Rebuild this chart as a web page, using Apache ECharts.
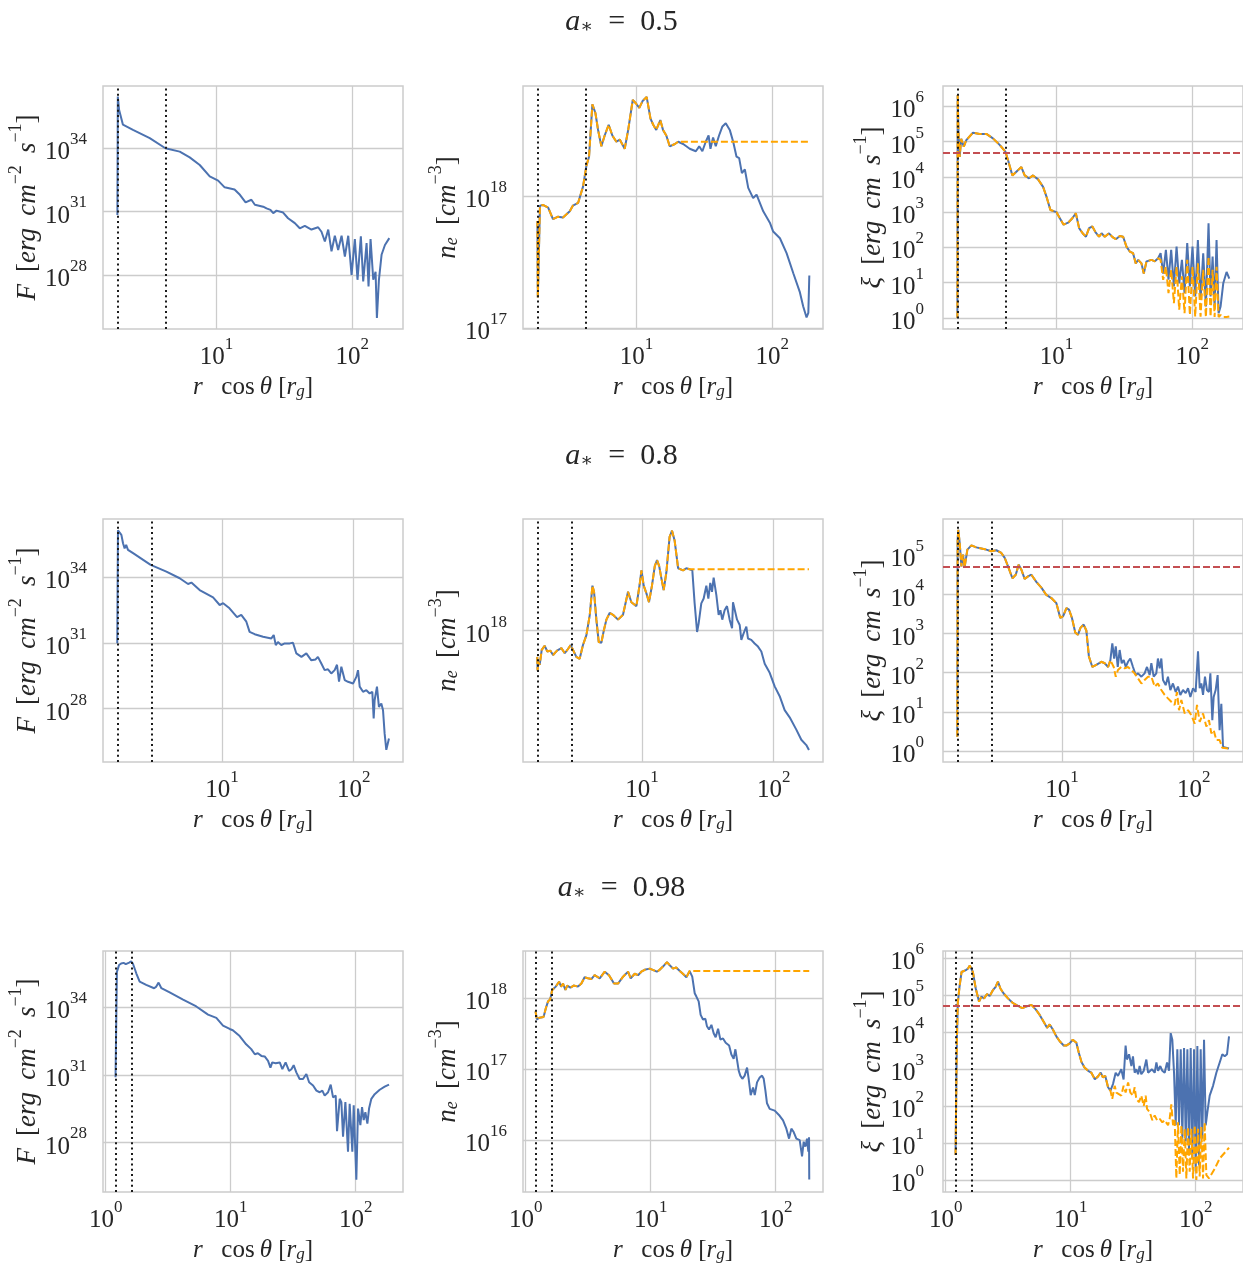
<!DOCTYPE html>
<html>
<head>
<meta charset="utf-8">
<script src="https://cdn.jsdelivr.net/npm/echarts@6.0.0/dist/echarts.min.js"></script>
<style>
  html, body { margin: 0; padding: 0; background: #fff; }
  #chart { width: 1243px; height: 1264px; }
</style>
</head>
<body>
<div id="chart"></div>
<script>
// ---- data: [r cos(theta) in r_g, value] ----
const spins = ['0.5', '0.8', '0.98'];
const horizon = [1.866, 1.6, 1.199];
const isco = [4.233, 2.907, 1.614];
const xiLimit = 5e4;

// a = 0.5
const flux05 = [[1.866, 6.9e30], [1.88, 2.8e36], [1.92, 6.6e35], [2.05, 1.3e35], [2.43, 7.4e34], [3.23, 3.0e34],
  [4.21, 1.0e34], [5.37, 6.9e33], [6.36, 3.7e33], [7.54, 1.6e33], [8.93, 4.6e32], [10.3, 2.9e32], [11.5, 1.4e32],
  [13.6, 1.1e32], [14.9, 6.2e31], [16.4, 2.7e31], [18.1, 3.6e31], [19.2, 2.1e31], [22.1, 1.7e31], [23.4, 1.4e31],
  [25.0, 1.2e31], [26.2, 8.3e30], [27.7, 1.1e31], [31.0, 8.9e30], [33.7, 4.8e30], [37.8, 2.8e30], [41.1, 1.6e30],
  [44.8, 2.1e30], [50.1, 1.4e30], [56.1, 1.8e30], [59.4, 1.1e30], [62.9, 3.8e29], [66.6, 1.4e30], [70.4, 1.3e29],
  [74.5, 7.1e29], [78.8, 1.5e29], [83.5, 7.1e29], [88.3, 7.4e28], [93.5, 7.1e29], [98.9, 1.0e28], [104.6, 4.9e29],
  [109.4, 5.8e27], [115.8, 6.6e29], [120.5, 4.8e27], [127.6, 3.2e29], [131.9, 2.8e27], [136.5, 4.9e29],
  [142.9, 5.8e27], [148.6, 1.4e28], [152.0, 8.9e25], [157.3, 5.8e27], [164.5, 8.9e28], [174.2, 2.6e29], [187.6, 5.5e29]];
const dens05 = [[1.866, 6.5e17], [1.88, 1.7e17], [1.95, 8.5e17], [2.05, 8.6e17], [2.24, 8.2e17], [2.43, 6.7e17],
  [2.65, 7.0e17], [2.88, 6.9e17], [3.23, 7.7e17], [3.41, 8.5e17], [3.72, 8.9e17], [4.05, 1.19e18], [4.28, 1.7e18],
  [4.48, 2.0e18], [4.74, 5.0e18], [4.99, 4.3e18], [5.22, 3.2e18], [5.52, 2.4e18], [5.84, 2.9e18], [6.25, 3.5e18],
  [6.65, 2.9e18], [7.12, 2.6e18], [7.54, 2.7e18], [8.2, 2.3e18], [8.7, 3.2e18], [9.4, 5.4e18], [9.9, 5.1e18],
  [10.5, 4.7e18], [11.1, 5.3e18], [11.9, 5.7e18], [12.7, 3.9e18], [13.3, 3.5e18], [14.0, 3.2e18], [15.0, 3.8e18],
  [15.7, 3.2e18], [16.6, 2.9e18], [17.6, 2.4e18], [19.2, 2.5e18], [20.3, 2.6e18], [22.1, 2.5e18], [24.7, 2.3e18],
  [27.4, 2.2e18], [29.0, 2.4e18], [30.6, 2.2e18], [32.4, 2.6e18], [34.0, 2.9e18], [35.1, 2.3e18], [36.7, 2.8e18],
  [38.4, 2.4e18], [40.6, 2.9e18], [43.0, 3.4e18], [45.5, 3.6e18], [48.7, 3.2e18], [51.6, 2.6e18], [54.6, 2.0e18],
  [57.1, 1.95e18], [59.8, 1.5e18], [62.9, 1.6e18], [66.6, 1.16e18], [72.4, 9.7e17], [76.7, 1.03e18], [85.9, 7.7e17],
  [96.1, 6.3e17], [101.7, 5.4e17], [114, 4.8e17], [127.6, 3.7e17], [143, 2.6e17], [160, 1.86e17], [169, 1.46e17],
  [179, 1.2e17], [184.5, 1.3e17], [187.6, 2.5e17]];
const xi05 = [[1.866, 0.98], [1.875, 2.1e6], [1.90, 1.9e5], [1.94, 3.7e4], [1.99, 1.2e5], [2.08, 7.2e4],
  [2.17, 1.1e5], [2.43, 1.8e5], [2.72, 1.66e5], [3.05, 1.66e5], [3.41, 1.24e5], [3.82, 8.1e4], [4.21, 5.2e4],
  [4.40, 3.0e4], [4.74, 1.1e4], [5.07, 1.4e4], [5.52, 1.9e4], [5.84, 1.1e4], [6.29, 9.1e3], [6.73, 1.1e4],
  [7.33, 8.5e3], [7.98, 5.2e3], [8.44, 2.8e3], [9.03, 1.15e3], [10.0, 1.0e3], [10.6, 670], [11.3, 440], [12.2, 500],
  [13.1, 670], [13.9, 930], [14.7, 350], [15.6, 250], [16.5, 200], [17.4, 350], [18.4, 390], [19.5, 260],
  [20.6, 200], [21.5, 250], [22.7, 200], [24.4, 250], [25.9, 195], [27.4, 170], [29.3, 210], [31.0, 200],
  [32.8, 105], [34.7, 76], [36.7, 68], [38.4, 35], [40.0, 44], [42.3, 35], [44.0, 18], [46.1, 40], [50.1, 44],
  [53.1, 40], [56.1, 49], [58.5, 68], [61.1, 18], [64.0, 85], [66.9, 12], [70.0, 85], [73.3, 7.8], [76.7, 105],
  [80.2, 9.5], [84.0, 44], [87.8, 5.0], [91.9, 132], [96.1, 7.8], [100.5, 105], [105.2, 4.0], [110.1, 162],
  [115.2, 3.2], [120.5, 68], [126.1, 2.1], [131.9, 480], [136.5, 4.0], [141.3, 55], [146.2, 2.1], [151.1, 162],
  [156.4, 1.35], [161.8, 2.1], [169.3, 9.5], [179.1, 20], [187.6, 13]];
const xi05Low = [[58.5, 44], [61.1, 12], [64.0, 28], [66.9, 5.0], [70.0, 23], [73.3, 2.6], [76.7, 28], [80.2, 1.7],
  [84.0, 15], [87.8, 1.35], [91.9, 44], [96.1, 1.2], [100.5, 28], [105.2, 1.08], [110.1, 35], [115.2, 1.08],
  [120.5, 23], [126.1, 1.05], [131.9, 55], [136.5, 1.08], [141.3, 23], [146.2, 1.05], [151.1, 28], [156.4, 1.05],
  [161.8, 1.2], [169.3, 1.05], [179.1, 1.05], [187.6, 1.08]];

// a = 0.8
const flux08 = [[1.6, 9.6e30], [1.62, 1.4e36], [1.65, 1.6e36], [1.72, 8.7e35], [1.77, 3.6e35], [1.82, 2.1e35],
  [1.87, 3.0e35], [1.93, 1.8e35], [2.11, 1.26e35], [2.87, 3.7e34], [3.78, 1.8e34], [4.77, 9.0e33], [5.52, 4.9e33],
  [5.85, 5.7e33], [6.76, 2.6e33], [8.55, 1.2e33], [9.6, 5.4e32], [10.2, 6.5e32], [11.4, 3.8e32], [13.0, 1.5e32],
  [14.0, 1.9e32], [15.3, 9.3e31], [16.2, 3.2e31], [17.7, 2.5e31], [20.5, 1.9e31], [23.7, 1.6e31], [24.7, 2.3e31],
  [25.6, 7.9e30], [26.6, 1.1e31], [28.2, 7.9e30], [29.9, 9.5e30], [32.7, 9.5e30], [34.6, 1.02e31], [36.7, 3.3e30],
  [40.1, 2.3e30], [43.7, 3.3e30], [47.7, 1.6e30], [51.4, 1.75e30], [53.5, 2.3e30], [56.8, 1.15e30], [60.2, 5.7e29],
  [63.8, 6.2e29], [67.6, 4.0e29], [71.7, 5.7e29], [74.7, 1.0e30], [77.4, 1.7e29], [80.6, 8.1e29], [85.5, 2.0e29],
  [90.6, 1.67e29], [98.9, 1.4e29], [104.8, 2.8e29], [107.9, 5.7e29], [111.1, 1.0e29], [117.8, 5.8e28],
  [124.8, 6.9e28], [132.3, 4.9e28], [138.6, 5.8e28], [141.9, 3.5e27], [144.3, 2.4e28], [150.3, 1.0e29],
  [155.6, 1.2e28], [162.2, 1.7e28], [167.1, 8.3e27], [171.9, 7.1e26], [177, 1.3e26], [185.4, 4.3e26]];
const dens08 = [[1.6, 6.5e17], [1.61, 5.2e17], [1.63, 6.0e17], [1.67, 5.7e17], [1.73, 7.3e17], [1.82, 7.8e17],
  [1.91, 7.1e17], [2.01, 7.2e17], [2.11, 6.7e17], [2.26, 7.2e17], [2.44, 7.5e17], [2.59, 6.9e17], [2.74, 7.4e17],
  [2.87, 7.9e17], [3.03, 7.1e17], [3.17, 6.5e17], [3.36, 6.3e17], [3.56, 7.9e17], [3.78, 9.3e17], [4.01, 1.3e18],
  [4.20, 2.1e18], [4.32, 1.9e18], [4.50, 1.2e18], [4.69, 8.3e17], [4.91, 8.2e17], [5.12, 1.0e18], [5.36, 1.2e18],
  [5.68, 1.34e18], [6.02, 1.3e18], [6.57, 1.2e18], [7.17, 1.3e18], [7.83, 1.9e18], [8.30, 1.6e18], [9.06, 1.5e18],
  [9.6, 2.15e18], [9.9, 2.7e18], [10.3, 2.1e18], [10.8, 1.85e18], [11.3, 1.6e18], [11.9, 2.1e18], [12.5, 2.9e18],
  [13.0, 3.2e18], [13.5, 2.9e18], [14.0, 2.4e18], [14.6, 1.95e18], [15.3, 2.6e18], [16.2, 4.7e18], [16.9, 5.2e18],
  [17.7, 4.4e18], [18.8, 2.8e18], [20.5, 2.7e18], [21.7, 2.8e18], [23.0, 2.75e18], [24.1, 2.7e18], [25.1, 1.57e18],
  [26.2, 9.8e17], [26.9, 1.12e18], [28.2, 1.57e18], [29.4, 1.7e18], [30.8, 2.1e18], [31.9, 1.7e18], [33.0, 2.2e18],
  [34.0, 1.9e18], [35.0, 2.4e18], [36.7, 1.8e18], [38.2, 1.3e18], [39.4, 1.4e18], [40.7, 1.2e18], [42.4, 1.4e18],
  [44.2, 1.5e18], [46.3, 1.2e18], [48.3, 1.04e18], [49.1, 1.6e18], [50.6, 1.6e18], [52.7, 1.2e18], [55.2, 1.1e18],
  [56.8, 8.6e17], [59.2, 9.6e17], [62.0, 1.07e18], [63.8, 8.8e17], [67.6, 8.6e17], [71.7, 8.1e17], [76.0, 7.7e17],
  [80.6, 7.1e17], [85.5, 5.8e17], [93.3, 5.0e17], [101.8, 4.0e17], [111.1, 3.4e17], [121.2, 2.7e17],
  [132.3, 2.4e17], [148.6, 1.96e17], [162.2, 1.66e17], [177, 1.52e17], [185.4, 1.4e17]];
const xi08 = [[1.6, 2.3], [1.61, 2.5e5], [1.63, 4.5e5], [1.67, 2.1e5], [1.72, 5.2e4], [1.77, 1.04e5], [1.82, 5.0e4],
  [1.91, 1.4e5], [2.05, 1.8e5], [2.23, 1.6e5], [2.44, 1.5e5], [2.66, 1.4e5], [2.90, 1.27e5], [3.17, 1.35e5],
  [3.46, 1.15e5], [3.67, 8.6e4], [3.89, 5.2e4], [4.20, 2.6e4], [4.45, 3.2e4], [4.69, 5.8e4], [4.91, 4.3e4],
  [5.20, 2.5e4], [5.52, 2.9e4], [5.85, 3.2e4], [6.38, 2.1e4], [6.97, 1.5e4], [7.6, 9.7e3], [8.3, 8.1e3],
  [9.06, 6.0e3], [9.7, 2.5e3], [10.2, 2.8e3], [10.8, 4.5e3], [11.3, 4.1e3], [11.9, 2.5e3], [12.6, 1.07e3],
  [13.2, 930], [13.8, 1.4e3], [14.6, 1.7e3], [15.3, 1.2e3], [16.0, 260], [17.0, 140], [18.2, 158], [19.9, 190],
  [21.1, 174], [22.4, 140], [23.3, 210], [24.1, 560], [24.9, 230], [25.6, 470], [26.5, 140], [27.4, 380],
  [28.4, 174], [29.4, 210], [30.5, 140], [31.7, 190], [33.0, 230], [34.6, 140], [36.3, 87], [37.8, 96], [40.1, 79],
  [42.4, 96], [44.2, 140], [46.3, 87], [47.7, 174], [49.7, 79], [52.0, 96], [53.5, 230], [55.2, 129], [56.8, 230],
  [58.5, 65], [61.3, 48], [63.8, 79], [66.5, 36], [69.6, 53], [73.0, 32], [76.0, 44], [79.2, 27], [83.0, 36],
  [87.0, 30], [90.6, 40], [94.4, 24], [98.9, 40], [103.5, 32], [107.9, 350], [111.1, 40], [114.3, 53], [117.8, 27],
  [121.9, 79], [126.2, 36], [130.6, 32], [133.9, 96], [138.6, 6.1], [141.9, 24], [146.9, 36], [152.1, 87],
  [157.4, 3.4], [162.2, 16], [167.1, 1.26], [185.4, 1.15]];
const xi08Low = [[23.7, 190], [24.7, 140], [25.6, 79], [26.6, 117], [28.2, 140], [29.9, 129], [31.7, 140],
  [33.6, 117], [35.6, 96], [37.8, 71], [40.1, 53], [42.4, 65], [45.0, 79], [47.7, 79], [50.6, 44], [53.5, 53],
  [56.8, 36], [60.2, 27], [63.8, 22], [67.6, 18], [71.7, 15], [74.7, 32], [77.4, 11], [80.6, 20], [85.5, 9.1],
  [90.6, 11], [96.0, 8.2], [101.8, 5.0], [106.0, 15], [111.1, 5.5], [117.8, 9.1], [124.8, 4.2], [130.6, 6.1],
  [136.2, 2.8], [141.9, 3.4], [148.6, 1.9], [157.4, 1.9], [165.1, 1.2], [185.4, 1.15]];

// a = 0.98
const flux098 = [[1.199, 7.8e30], [1.23, 3.8e35], [1.28, 7.6e35], [1.33, 8.9e35], [1.39, 9.5e35], [1.45, 8.3e35],
  [1.54, 9.8e35], [1.60, 1.1e36], [1.65, 8.9e35], [1.76, 3.2e35], [1.87, 1.4e35], [2.11, 1.0e35], [2.44, 7.1e34],
  [2.54, 8.4e34], [2.65, 1.26e35], [2.79, 7.1e34], [3.25, 4.6e34], [4.16, 2.2e34], [5.31, 1.1e34], [6.59, 4.8e33],
  [7.68, 3.4e33], [8.68, 1.56e33], [9.82, 1.1e33], [10.4, 9.7e32], [11.8, 5.3e32], [13.3, 2.3e32], [14.6, 1.4e32],
  [15.6, 8.3e31], [16.5, 9.2e31], [17.6, 7.0e31], [18.7, 6.6e31], [19.9, 4.2e31], [20.8, 2.1e31], [21.5, 3.6e31],
  [22.9, 3.3e31], [24.7, 3.6e31], [25.9, 1.8e31], [27.5, 3.6e31], [29.3, 1.5e31], [30.6, 1.8e31], [31.9, 2.7e31],
  [33.5, 1.3e31], [35.6, 6.6e30], [37.9, 6.6e30], [40.3, 1.1e31], [42.4, 4.7e30], [45.6, 3.4e30], [48.5, 2.0e30],
  [51.5, 1.7e30], [54.1, 2.0e30], [56.5, 1.2e30], [60.1, 1.7e30], [63.1, 3.7e30], [65.9, 1.0e30], [69.2, 1.2e30],
  [70.9, 3.2e28], [74.5, 8.7e29], [76.8, 6.2e29], [79.2, 1.8e28], [82.7, 6.2e29], [86.8, 3.9e27], [89.5, 5.2e29],
  [94.0, 3.9e27], [96.4, 4.5e29], [101.2, 2.2e26], [104.4, 3.2e29], [109.0, 5.9e28], [112.4, 3.7e29],
  [115.9, 9.8e28], [119.5, 2.2e29], [124, 6.9e28], [127.9, 3.2e29], [133.4, 8.7e29], [141.9, 1.4e30],
  [155.6, 2.2e30], [170.6, 3.0e30], [184.8, 3.7e30]];
const dens098 = [[1.199, 6.5e17], [1.23, 5.0e17], [1.29, 5.3e17], [1.39, 5.4e17], [1.45, 7.2e17], [1.51, 9.0e17],
  [1.57, 9.5e17], [1.63, 1.3e18], [1.74, 1.45e18], [1.85, 1.7e18], [1.92, 1.45e18], [1.99, 1.6e18], [2.08, 1.3e18],
  [2.15, 1.5e18], [2.28, 1.4e18], [2.42, 1.5e18], [2.62, 1.45e18], [2.79, 1.6e18], [2.96, 1.96e18], [3.15, 1.9e18],
  [3.35, 1.85e18], [3.56, 2.1e18], [3.91, 1.9e18], [4.29, 2.35e18], [4.64, 2.1e18], [5.09, 1.6e18], [5.48, 1.6e18],
  [6.01, 2.0e18], [6.59, 2.35e18], [6.92, 1.9e18], [7.45, 2.2e18], [7.92, 2.1e18], [8.42, 2.35e18], [8.95, 2.5e18],
  [9.82, 2.6e18], [10.4, 2.5e18], [11.2, 2.35e18], [11.8, 2.5e18], [12.6, 2.8e18], [13.5, 3.2e18], [14.2, 2.9e18],
  [15.1, 2.6e18], [16.0, 2.7e18], [17.1, 2.4e18], [18.1, 2.2e18], [19.3, 1.96e18], [20.5, 2.4e18], [21.5, 2.0e18],
  [22.5, 1.17e18], [23.2, 1.05e18], [24.2, 9.0e17], [25.1, 5.8e17], [26.2, 5.0e17], [27.4, 5.1e17], [28.2, 4.0e17],
  [29.3, 3.6e17], [30.6, 4.2e17], [31.9, 3.2e17], [33.1, 2.8e17], [34.6, 3.7e17], [36.1, 2.6e17], [37.9, 2.7e17],
  [39.8, 2.35e17], [42.4, 2.15e17], [44.2, 1.6e17], [46.1, 1.4e17], [47.6, 1.9e17], [49.1, 2.0e17], [50.6, 9.5e16],
  [52.1, 8.1e16], [54.1, 7.3e16], [56.5, 8.1e16], [59.0, 1.05e17], [60.8, 7.3e16], [63.1, 4.3e16], [65.9, 5.5e16],
  [68.0, 4.3e16], [70.9, 6.5e16], [74.5, 7.6e16], [77.8, 8.1e16], [80.2, 7.3e16], [82.7, 5.0e16], [85.2, 3.3e16],
  [89.5, 2.75e16], [98.2, 2.6e16], [107.6, 2.2e16], [114.5, 1.9e16], [121.7, 1.45e16], [127.9, 1.05e16],
  [133.4, 1.45e16], [139.3, 1.3e16], [146.3, 1.05e16], [155.6, 1.0e16], [162.5, 5.9e15], [167.5, 9.5e15],
  [172.7, 8.1e15], [178.1, 1.05e16], [182.5, 6.9e15], [184.8, 1.1e16], [185.5, 2.8e15]];
const xi098 = [[1.199, 4.7], [1.23, 6.2e3], [1.25, 6.0e4], [1.29, 1.67e5], [1.34, 4.2e5], [1.39, 4.2e5],
  [1.45, 4.7e5], [1.51, 5.2e5], [1.56, 6.3e5], [1.60, 7.0e5], [1.65, 4.2e5], [1.74, 1.5e5], [1.85, 6.6e4],
  [1.93, 9.0e4], [2.03, 8.1e4], [2.14, 1.06e5], [2.25, 9.4e4], [2.39, 1.36e5], [2.51, 1.67e5], [2.62, 2.3e5],
  [2.74, 1.5e5], [2.91, 1.1e5], [3.15, 8.1e4], [3.46, 6.0e4], [3.79, 5.1e4], [4.10, 4.4e4], [4.42, 4.9e4],
  [4.85, 5.4e4], [5.25, 4.1e4], [5.65, 2.9e4], [6.08, 1.9e4], [6.47, 1.3e4], [6.79, 1.6e4], [7.22, 1.15e4],
  [7.68, 7.6e3], [8.17, 5.6e3], [8.79, 4.3e3], [9.23, 4.3e3], [9.82, 4.9e3], [10.4, 6.2e3], [11.1, 5.1e3],
  [11.6, 2.8e3], [12.2, 1.55e3], [12.9, 1.1e3], [13.8, 890], [14.6, 800], [15.6, 530], [16.5, 620], [17.4, 800],
  [18.1, 590], [18.9, 650], [19.9, 320], [20.8, 260], [21.8, 390], [22.9, 790], [23.9, 650], [25.4, 980],
  [26.5, 520], [27.5, 4.3e3], [28.2, 1.8e3], [29.3, 2.5e3], [30.6, 1.2e3], [31.5, 2.2e3], [32.5, 790], [33.5, 980],
  [34.6, 720], [35.6, 1.2e3], [36.7, 720], [38.4, 890], [40.3, 1.8e3], [41.6, 790], [42.9, 720], [44.7, 980],
  [47.0, 790], [48.5, 1.5e3], [50.0, 890], [52.1, 1.2e3], [54.1, 890], [56.5, 790], [59.0, 1.5e3], [61.2, 890],
  [63.1, 9.3e3], [65.0, 6.2e3], [67.1, 790], [69.2, 30], [71.3, 3.4e3], [73.6, 30], [75.9, 3.4e3], [78.2, 13],
  [80.7, 3.7e3], [83.2, 11], [85.8, 3.4e3], [88.4, 5.8], [91.2, 3.7e3], [94.0, 3.8], [97.0, 3.4e3], [100, 1.7],
  [103.1, 4.2e3], [106.3, 2.5], [109.6, 3.4e3], [113.0, 13], [116.6, 6.2e3], [120.2, 30], [124.0, 68],
  [129.4, 190], [137.6, 350], [146.3, 790], [155.6, 1.5e3], [163.3, 2.5e3], [170.6, 2.2e3], [178.1, 2.5e3],
  [184.8, 7.6e3]];
const xi098Low = [[21.5, 155], [22.5, 350], [23.2, 230], [25.4, 190], [26.5, 350], [27.5, 230], [28.8, 430],
  [30.0, 230], [31.5, 190], [32.5, 320], [33.5, 155], [35.2, 126], [36.7, 190], [38.4, 100], [39.8, 190], [40.8, 83],
  [42.9, 68], [45.0, 41], [47.0, 55], [49.1, 41], [51.5, 45], [54.1, 36], [56.5, 41], [60.1, 30], [61.9, 45],
  [63.8, 110], [65.9, 30], [67.9, 41], [70.0, 1.1], [72.2, 36], [74.5, 1.35], [76.8, 30], [79.2, 1.66], [81.7, 24],
  [84.2, 1.1], [86.8, 27], [89.5, 1.66], [92.3, 24], [95.2, 1.1], [98.2, 30], [101.2, 1.0], [104.4, 24],
  [107.6, 1.23], [110.9, 27], [114.5, 1.1], [118.0, 36], [121.7, 1.35], [127.9, 1.1], [141.9, 2.0], [155.6, 3.8],
  [184.8, 7.4]];

// orange: density held fixed beyond densCapFrom, xi recomputed beyond xiSplitAt
const densCap = [2.6e18, 2.75e18, 2.4e18];
const densCapFrom = [20.3, 23.0, 20.5];
const xiSplitAt = [56.1, 23.3, 20.8];

// axis ranges
const xMin = [1.462, 1.247, 0.952];
const xMax = [236.6, 237, 239];
const xTicks = [[10, 100], [10, 100], [1, 10, 100]];
const yMin = [[2.7e25, 9.8e16, 0.48], [3.6e25, 1.15e17, 0.52], [6.3e25, 1.86e15, 0.47]];
const yMax = [[8.9e36, 6.9e18, 3.8e6], [4.6e36, 6.3e18, 8.5e5], [3.2e36, 4.6e18, 1.55e6]];
const yTicks = [[1e28, 1e31, 1e34], [1e15, 1e16, 1e17, 1e18, 1e19], [1, 10, 100, 1e3, 1e4, 1e5, 1e6]];

const fluxes = [flux05, flux08, flux098];
const denss = [dens05, dens08, dens098];
const xis = [xi05, xi08, xi098];
const xiLows = [xi05Low, xi08Low, xi098Low];

// ---- style ----
const SERIF = "'Liberation Serif', 'DejaVu Serif', serif";
const INK = '#262626';
const GRIDC = '#cccccc';
const BLUE = '#4c72b0';
const ORANGE = '#ffa500';
const RED = '#c44e52';
const LEFT = [103, 523, 943];
const TOP = [86, 519, 951];
const TITLE_TOP = [-4, 430, 862];
const W = 300, H = 243;

const tickRich = {
  b: {fontFamily: SERIF, fontSize: 25, lineHeight: 34, verticalAlign: 'bottom', color: INK},
  s: {fontFamily: SERIF, fontSize: 17, lineHeight: 30, verticalAlign: 'top', color: INK}
};
const nameRich = {
  i: {fontFamily: SERIF, fontStyle: 'italic', fontSize: 25, lineHeight: 34, verticalAlign: 'bottom', color: INK},
  n: {fontFamily: SERIF, fontSize: 25, lineHeight: 34, verticalAlign: 'bottom', color: INK},
  sup: {fontFamily: SERIF, fontSize: 17, lineHeight: 26, verticalAlign: 'top', color: INK},
  sub: {fontFamily: SERIF, fontStyle: 'italic', fontSize: 17, lineHeight: 17, verticalAlign: 'bottom', color: INK}
};
const yNameRich = {
  i: Object.assign({}, nameRich.i, {fontSize: 27}),
  n: Object.assign({}, nameRich.n, {fontSize: 27}),
  sup: Object.assign({}, nameRich.sup, {fontSize: 18}),
  sub: Object.assign({}, nameRich.sub, {fontSize: 18})
};
const yNames = [
  '{i|F}{n|\u2009 [}{i|erg\u2009 cm}{sup|−2}{i|\u2009 s}{sup|−1}{n|]}',
  '{i|n}{sub|e}{n|\u2009 [}{i|cm}{sup|−3}{n|]}',
  '{i|ξ}{n|\u2009 [}{i|erg\u2009 cm\u2009 s}{sup|−1}{n|]}'
];
const xName = '{i|r}{n|   cos\u2009}{i|θ}{n| [}{i|r}{sub|g}{n|]}';
const yNameGap = [58, 58, 52];
const yLabelMargin = [16, 16, 19];

function powLabel(v) {
  return '{b|10}{s|' + Math.round(Math.log10(v)) + '}';
}

const grids = [], xAxes = [], yAxes = [], series = [], titles = [];

for (let r = 0; r < 3; r++) {
  titles.push({
    text: '{i|a}{sub|∗}{n|  =  ' + spins[r] + '}',
    left: 'center', top: TITLE_TOP[r],
    textStyle: {
      fontWeight: 'normal',
      rich: {
        i: {fontFamily: SERIF, fontStyle: 'italic', fontWeight: 'normal', fontSize: 30, lineHeight: 36, verticalAlign: 'bottom', color: INK},
        n: {fontFamily: SERIF, fontWeight: 'normal', fontSize: 30, lineHeight: 36, verticalAlign: 'bottom', color: INK},
        sub: {fontFamily: SERIF, fontWeight: 'normal', fontSize: 19, lineHeight: 19, verticalAlign: 'bottom', color: INK}
      }
    }
  });
  for (let c = 0; c < 3; c++) {
    const k = r * 3 + c;
    grids.push({
      left: LEFT[c], top: TOP[r], width: W, height: H,
      show: true, borderColor: GRIDC, borderWidth: 1.5, backgroundColor: '#fff'
    });
    xAxes.push({
      gridIndex: k, type: 'log', logBase: 10, min: xMin[r], max: xMax[r],
      axisLine: {show: false},
      axisTick: {show: false, customValues: xTicks[r]},
      axisLabel: {customValues: xTicks[r], formatter: powLabel, rich: tickRich, margin: 7},
      splitLine: {show: true, lineStyle: {color: GRIDC, width: 1.3}},
      name: xName, nameLocation: 'middle', nameGap: 37,
      nameTextStyle: {rich: nameRich}
    });
    yAxes.push({
      gridIndex: k, type: 'log', logBase: 10, min: yMin[r][c], max: yMax[r][c],
      axisLine: {show: false},
      axisTick: {show: false, customValues: yTicks[c]},
      axisLabel: {customValues: yTicks[c], formatter: powLabel, rich: tickRich, margin: yLabelMargin[c]},
      splitLine: {show: true, lineStyle: {color: GRIDC, width: 1.3}},
      name: yNames[c], nameLocation: 'middle', nameGap: yNameGap[c],
      nameTextStyle: {rich: yNameRich}
    });

    const vlines = {
      silent: true, symbol: 'none', label: {show: false},
      lineStyle: {color: '#1a1a1a', type: [2, 3.3], width: 2},
      data: [{xAxis: horizon[r]}, {xAxis: isco[r]}]
    };

    let blueData, orangeData = null;
    if (c === 0) {
      blueData = fluxes[r];
    } else if (c === 1) {
      blueData = denss[r];
      const last = blueData[blueData.length - 1][0];
      orangeData = blueData.filter(p => p[0] <= densCapFrom[r]).concat([[last, densCap[r]]]);
    } else {
      blueData = xis[r];
      orangeData = blueData.filter(p => p[0] <= xiSplitAt[r]).concat(xiLows[r]);
    }

    series.push({
      type: 'line', xAxisIndex: k, yAxisIndex: k, data: blueData,
      showSymbol: false, symbol: 'none', z: 2,
      lineStyle: {color: BLUE, width: 2},
      markLine: vlines
    });
    if (orangeData) {
      const s = {
        type: 'line', xAxisIndex: k, yAxisIndex: k, data: orangeData,
        showSymbol: false, symbol: 'none', z: 3,
        lineStyle: {color: ORANGE, width: 2, type: [7, 3]}
      };
      if (c === 2) {
        s.markLine = {
          silent: true, symbol: 'none', label: {show: false},
          lineStyle: {color: RED, type: [7, 3], width: 2},
          data: [{yAxis: xiLimit}]
        };
      }
      series.push(s);
    }
  }
}

const chart = echarts.init(document.getElementById('chart'), null, {renderer: 'canvas'});
chart.setOption({
  animation: false,
  backgroundColor: '#fff',
  title: titles,
  grid: grids,
  xAxis: xAxes,
  yAxis: yAxes,
  series: series
});
</script>
</body>
</html>
